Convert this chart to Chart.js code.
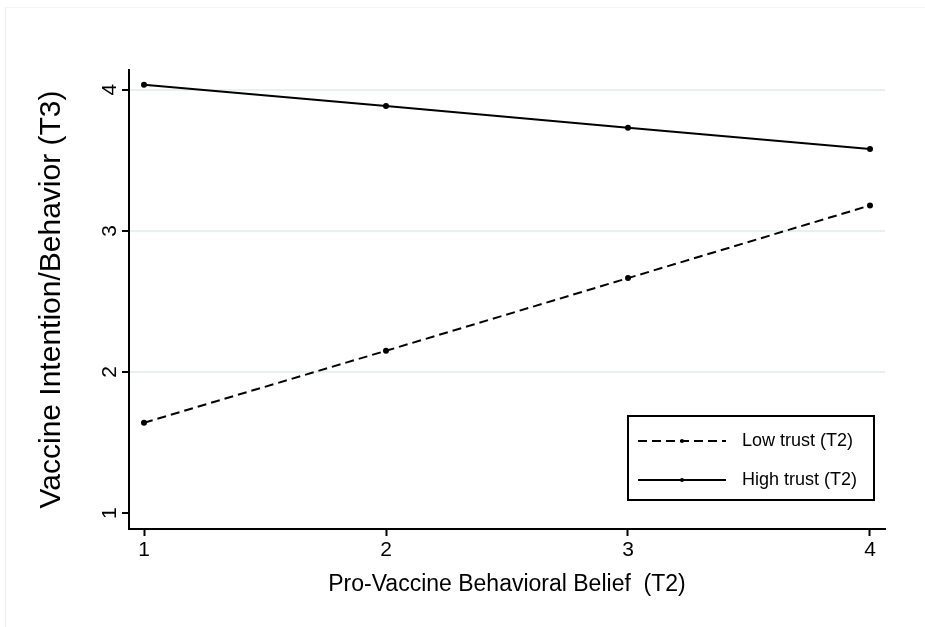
<!DOCTYPE html>
<html>
<head>
<meta charset="utf-8">
<script src="https://cdn.jsdelivr.net/npm/chart.js@4.4.0/dist/chart.umd.min.js"></script>
<style>
  html, body { margin: 0; padding: 0; background: #fff; }
  #wrap { position: relative; width: 925px; height: 627px; }
  #frame { position: absolute; left: 5px; top: 7px; right: 0; bottom: 0; border-left: 1px solid #ececec; border-top: 1px solid #f4f4f4; pointer-events: none; }
</style>
</head>
<body>
<div id="wrap">
  <canvas id="chart" width="925" height="627"></canvas>
  <div id="frame"></div>
</div>
<script>
// data
const beliefLevels = [1, 2, 3, 4];
const lowTrust = [1.64, 2.15, 2.665, 3.18];
const highTrust = [4.035, 3.885, 3.73, 3.58];
const xTicks = [1, 2, 3, 4];
const yTicks = [1, 2, 3, 4];
const seriesNames = ["Low trust (T2)", "High trust (T2)"];

const FONT = "'Liberation Sans', Arial, Helvetica, sans-serif";

// legend box drawn inside plot area, like the Stata one
const boxLegend = {
  id: "boxLegend",
  afterDraw(chart) {
    const { ctx, chartArea } = chart;
    const x0 = chartArea.right - 257, y0 = chartArea.bottom - 113;
    const w = 246, h = 84;
    ctx.save();
    ctx.strokeStyle = "#000";
    ctx.lineWidth = 2;
    ctx.fillStyle = "#fff";
    ctx.fillRect(x0, y0, w, h);
    ctx.strokeRect(x0, y0, w, h);
    chart.data.datasets.forEach((ds, i) => {
      const y = y0 + 25 + i * 39;
      ctx.beginPath();
      ctx.setLineDash(ds.borderDash || []);
      ctx.lineWidth = ds.borderWidth;
      ctx.moveTo(x0 + 10, y);
      ctx.lineTo(x0 + 98, y);
      ctx.stroke();
      ctx.setLineDash([]);
      ctx.beginPath();
      ctx.arc(x0 + 54, y, 2, 0, Math.PI * 2);
      ctx.fillStyle = "#000";
      ctx.fill();
      ctx.font = "18px " + FONT;
      ctx.textBaseline = "middle";
      ctx.textAlign = "left";
      ctx.fillText(ds.label, x0 + 114, y);
    });
    ctx.restore();
  }
};

const whiteBg = {
  id: "whiteBg",
  beforeDraw(chart) {
    const ctx = chart.ctx;
    ctx.save();
    ctx.fillStyle = "#fff";
    ctx.fillRect(0, 0, chart.width, chart.height);
    ctx.restore();
  }
};

new Chart(document.getElementById("chart"), {
  type: "line",
  data: {
    datasets: [
      {
        label: seriesNames[0],
        data: beliefLevels.map((x, i) => ({ x: x, y: lowTrust[i] })),
        borderColor: "#000",
        backgroundColor: "#000",
        borderWidth: 2,
        borderDash: [9, 5],
        pointRadius: 2,
        tension: 0,
        fill: false
      },
      {
        label: seriesNames[1],
        data: beliefLevels.map((x, i) => ({ x: x, y: highTrust[i] })),
        borderColor: "#000",
        backgroundColor: "#000",
        borderWidth: 2,
        pointRadius: 2,
        tension: 0,
        fill: false
      }
    ]
  },
  options: {
    responsive: false,
    animation: false,
    layout: { padding: { left: 10, top: 70, right: 40, bottom: 20 } },
    plugins: {
      legend: { display: false },
      tooltip: { enabled: false }
    },
    scales: {
      x: {
        type: "linear",
        min: 0.938,
        max: 4.062,
        afterBuildTicks: (scale) => { scale.ticks = xTicks.map(v => ({ value: v })); },
        afterFit: (scale) => { scale.height = 78; },
        border: { display: true, color: "#000", width: 2 },
        grid: { drawOnChartArea: false, tickLength: 7, tickColor: "#000", tickWidth: 2 },
        ticks: { color: "#000", font: { family: FONT, size: 21 }, padding: 2, maxRotation: 0 },
        title: {
          display: true,
          text: "Pro-Vaccine Behavioral Belief  (T2)",
          color: "#000",
          font: { family: FONT, size: 23 },
          padding: { top: 0, bottom: 9 }
        }
      },
      y: {
        type: "linear",
        min: 0.887,
        max: 4.14,
        afterBuildTicks: (scale) => { scale.ticks = yTicks.map(v => ({ value: v })); },
        afterFit: (scale) => { scale.width = 119; },
        border: { display: true, color: "#000", width: 2 },
        grid: {
          color: (c) => (c.tick && c.tick.value === 1 ? "rgba(0,0,0,0)" : "#e8f0f2"),
          lineWidth: 2,
          tickLength: 7,
          tickColor: "#000",
          tickWidth: 2
        },
        ticks: {
          color: "#000",
          font: { family: FONT, size: 21 },
          padding: 6,
          minRotation: 90,
          maxRotation: 90,
          crossAlign: "center"
        },
        title: {
          display: true,
          text: "Vaccine Intention/Behavior (T3)",
          color: "#000",
          font: { family: FONT, size: 30 },
          padding: { top: 24, bottom: 0 }
        }
      }
    }
  },
  plugins: [whiteBg, boxLegend]
});
</script>
</body>
</html>
